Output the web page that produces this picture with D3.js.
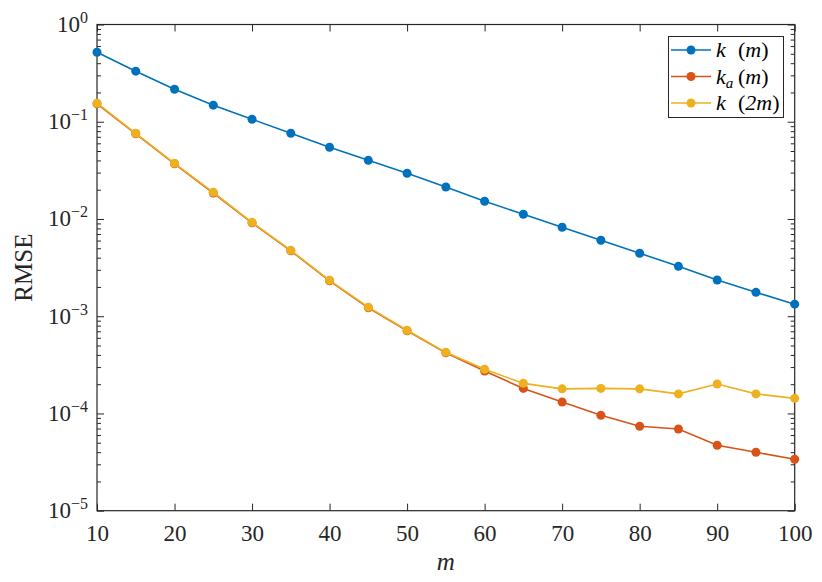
<!DOCTYPE html>
<html>
<head>
<meta charset="utf-8">
<script src="https://cdn.jsdelivr.net/npm/d3@7"></script>
<style>
  html, body { margin: 0; padding: 0; background: #fff; }
  svg { display: block; font-family: "Liberation Serif", "DejaVu Serif", serif; }
</style>
</head>
<body>
<svg id="chart" width="822" height="582"></svg>
<script>
// --- data ---
const mValues = [10, 15, 20, 25, 30, 35, 40, 45, 50, 55, 60, 65, 70, 75, 80, 85, 90, 95, 100];
const rmseK = [0.518, 0.331, 0.216, 0.148, 0.106, 0.0761, 0.0546, 0.0401, 0.0295, 0.0213,
               0.0152, 0.0112, 0.00822, 0.00604, 0.00444, 0.00326, 0.00236, 0.00176, 0.00133];
const rmseKa = [0.153, 0.0752, 0.0369, 0.0185, 0.00912, 0.00470, 0.00231, 0.00122, 0.000708, 0.000420,
                0.000273, 0.000181, 0.000131, 0.0000957, 0.0000738, 0.0000692, 0.0000471, 0.0000399, 0.0000338];
const rmseK2m = [0.155, 0.0761, 0.0374, 0.0188, 0.00924, 0.00476, 0.00234, 0.00124, 0.000717, 0.000425,
                 0.000285, 0.000204, 0.000179, 0.000181, 0.000179, 0.000159, 0.000201, 0.000159, 0.000143];
const xTicks = [10, 20, 30, 40, 50, 60, 70, 80, 90, 100];
const yExponents = [-5, -4, -3, -2, -1, 0];

const series = [
    { name: "k", sub: null, arg: "m", color: "#0072BD", values: rmseK },
    { name: "k", sub: "a", arg: "m", color: "#D95319", values: rmseKa },
    { name: "k", sub: null, arg: "2m", color: "#EDB120", values: rmseK2m }
];

// --- layout ---
const plotLeft = 97, plotRight = 794.7, plotTop = 24.5, plotBottom = 510.7;
const axisColor = "#262626";

const svg = d3.select("#chart");

const x = d3.scaleLinear().domain([10, 100]).range([plotLeft, plotRight]);
const y = d3.scaleLog().domain([1e-5, 1]).range([plotBottom, plotTop]);

const yMajor = yExponents.map(e => Math.pow(10, e));
const yMinor = [];
yExponents.slice(0, -1).forEach(e => {
    for (let k = 2; k <= 9; k++) yMinor.push(k * Math.pow(10, e));
});

// --- axes (ticks point inward, box on) ---
function styleAxis(g) {
    g.select(".domain").remove();
    g.selectAll(".tick line").attr("stroke", axisColor).attr("stroke-width", 1);
}

svg.append("g").attr("transform", `translate(0,${plotBottom})`)
    .call(d3.axisBottom(x).tickValues(xTicks).tickSize(-7).tickPadding(14).tickFormat(d3.format("d")))
    .call(styleAxis)
    .call(g => g.selectAll(".tick text")
        .attr("fill", axisColor)
        .style("font-size", "23px")
        .style("font-family", "'Liberation Serif', serif"));

svg.append("g").attr("transform", `translate(0,${plotTop})`)
    .call(d3.axisTop(x).tickValues(xTicks).tickSize(-7).tickFormat(""))
    .call(styleAxis);

[[d3.axisLeft, plotLeft], [d3.axisRight, plotRight]].forEach(([axisFn, pos]) => {
    svg.append("g").attr("transform", `translate(${pos},0)`)
        .call(axisFn(y).tickValues(yMajor).tickSize(-7).tickFormat(""))
        .call(styleAxis);
    svg.append("g").attr("transform", `translate(${pos},0)`)
        .call(axisFn(y).tickValues(yMinor).tickSize(-4).tickFormat(""))
        .call(styleAxis);
});

// y tick labels as 10^e
const yLabels = svg.append("g")
    .attr("fill", axisColor)
    .attr("text-anchor", "end");
yExponents.forEach(e => {
    const t = yLabels.append("text")
        .attr("x", plotLeft - 9)
        .attr("y", y(Math.pow(10, e)) + 7.5);
    t.append("tspan").style("font-size", "23px").text("10");
    t.append("tspan").attr("dy", -9).style("font-size", "16px").text(e < 0 ? "\u2212" + (-e) : String(e));
});

// box
svg.append("rect")
    .attr("x", plotLeft).attr("y", plotTop)
    .attr("width", plotRight - plotLeft).attr("height", plotBottom - plotTop)
    .attr("fill", "none")
    .attr("stroke", axisColor)
    .attr("stroke-width", 1.2);

// axis titles
svg.append("text")
    .attr("transform", `translate(32,${(plotTop + plotBottom) / 2}) rotate(-90)`)
    .attr("text-anchor", "middle")
    .attr("fill", axisColor)
    .style("font-size", "25px")
    .text("RMSE");

svg.append("text")
    .attr("x", (plotLeft + plotRight) / 2)
    .attr("y", 570)
    .attr("text-anchor", "middle")
    .attr("fill", axisColor)
    .style("font-size", "25px")
    .style("font-style", "italic")
    .text("m");

// --- lines + markers ---
const line = d3.line()
    .x((d, i) => x(mValues[i]))
    .y(d => y(d));

series.forEach(s => {
    const g = svg.append("g");
    g.append("path")
        .datum(s.values)
        .attr("fill", "none")
        .attr("stroke", s.color)
        .attr("stroke-width", 1.6)
        .attr("d", line);
    g.selectAll("circle")
        .data(s.values)
        .enter()
        .append("circle")
        .attr("cx", (d, i) => x(mValues[i]))
        .attr("cy", d => y(d))
        .attr("r", 4.5)
        .attr("fill", s.color);
});

// --- legend ---
const legend = svg.append("g");
legend.append("rect")
    .attr("x", 668.5).attr("y", 36.5)
    .attr("width", 115).attr("height", 81)
    .attr("fill", "#fff")
    .attr("stroke", axisColor)
    .attr("stroke-width", 1);

series.forEach((s, i) => {
    const ly = 50 + i * 26.5;
    legend.append("line")
        .attr("x1", 671).attr("x2", 711)
        .attr("y1", ly).attr("y2", ly)
        .attr("stroke", s.color)
        .attr("stroke-width", 1.6);
    legend.append("circle")
        .attr("cx", 691).attr("cy", ly).attr("r", 4.5)
        .attr("fill", s.color);
    const t = legend.append("text")
        .attr("y", ly + 7)
        .attr("fill", "#000")
        .style("font-size", "22px");
    t.append("tspan").attr("x", 716).style("font-style", "italic").text(s.name);
    if (s.sub) {
        t.append("tspan").attr("dy", 4).style("font-style", "italic").style("font-size", "15px").text(s.sub);
        t.append("tspan").attr("x", 738).attr("dy", -4).text("(");
    } else {
        t.append("tspan").attr("x", 738).text("(");
    }
    t.append("tspan").style("font-style", "italic").text(s.arg);
    t.append("tspan").text(")");
});
</script>
</body>
</html>
